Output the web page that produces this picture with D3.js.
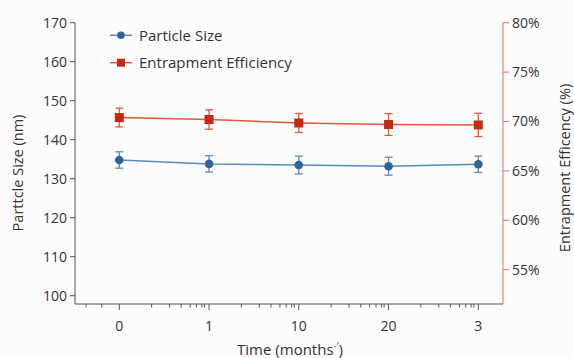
<!DOCTYPE html>
<html>
<head>
<meta charset="utf-8">
<script src="https://cdn.jsdelivr.net/npm/d3@7"></script>
<style>
  body { margin: 0; background: #fcfcfc; }
  svg { font-family: "Open Sans", "Noto Sans", sans-serif; }
</style>
</head>
<body>
<script>
// chart data
const months = ["0", "1", "10", "20", "3"];
const particleSize = [134.8, 133.8, 133.5, 133.2, 133.7];
const particleErr = [2.1, 2.1, 2.3, 2.3, 2.1];
const efficiency = [70.4, 70.2, 69.85, 69.7, 69.65];
const efficiencyErr = [0.95, 0.98, 0.96, 1.1, 1.18];
const leftTicks = [100, 110, 120, 130, 140, 150, 160, 170];
const rightTicks = [55, 60, 65, 70, 75, 80];
// minor tick spots, as fractions of one category step
const minorBefore = [-0.37, -0.195];
const minorBetween = [0.36, 0.56, 0.69, 0.79, 0.86, 0.92, 0.95];

let width = 574,
  height = 358

const blue = "#2f649b", blueLine = "#5a8bbd";
const red = "#c42a12", redLine = "#e2553f", redAxis = "#e8705e";
const grey = "#555", textCol = "#333";

const svg = d3.select("body").append("svg")
  .attr("width", width)
  .attr("height", height);

// plot box
const plotLeft = 75, plotRight = 503, plotTop = 22.7, plotBottom = 304;

const x = d3.scalePoint().domain(months).range([119.3, 478.3]);
const step = x.step();
const yL = d3.scaleLinear().domain([100, 170]).range([295.7, plotTop]);
const yR = d3.scaleLinear().domain([55, 80]).range([269.7, plotTop]);

// left axis
svg.append("line")
  .attr("x1", plotLeft).attr("x2", plotLeft)
  .attr("y1", plotTop).attr("y2", plotBottom)
  .attr("stroke", grey);
const lt = svg.append("g").selectAll("g").data(leftTicks).join("g")
  .attr("transform", d => `translate(0,${yL(d)})`);
lt.append("line").attr("x1", plotLeft - 5).attr("x2", plotLeft).attr("stroke", grey);
lt.append("text")
  .attr("x", plotLeft - 8).attr("dy", "0.35em")
  .attr("text-anchor", "end")
  .attr("font-size", 14).attr("fill", textCol)
  .text(d => d);

// right axis
svg.append("line")
  .attr("x1", plotRight).attr("x2", plotRight)
  .attr("y1", plotTop).attr("y2", plotBottom)
  .attr("stroke", redAxis);
const rt = svg.append("g").selectAll("g").data(rightTicks).join("g")
  .attr("transform", d => `translate(0,${yR(d)})`);
rt.append("line").attr("x1", plotRight).attr("x2", plotRight + 6).attr("stroke", redAxis);
rt.append("text")
  .attr("x", plotRight + 9).attr("dy", "0.35em")
  .attr("font-size", 14).attr("fill", textCol)
  .text(d => d + "%");

// bottom axis
svg.append("line")
  .attr("x1", plotLeft).attr("x2", plotRight)
  .attr("y1", plotBottom).attr("y2", plotBottom)
  .attr("stroke", grey);
let minor = minorBefore.map(f => x(months[0]) + f * step);
months.slice(0, -1).forEach(m => {
  minorBetween.forEach(f => minor.push(x(m) + f * step));
});
svg.append("g").selectAll("line").data(minor).join("line")
  .attr("x1", d => d).attr("x2", d => d)
  .attr("y1", plotBottom).attr("y2", plotBottom + 3.5)
  .attr("stroke", grey);
const bt = svg.append("g").selectAll("g").data(months).join("g")
  .attr("transform", d => `translate(${x(d)},0)`);
bt.append("line").attr("y1", plotBottom).attr("y2", plotBottom + 6).attr("stroke", grey);
bt.append("text")
  .attr("y", 326).attr("dy", "0.35em")
  .attr("text-anchor", "middle")
  .attr("font-size", 14).attr("fill", textCol)
  .text(d => d);

// axis titles
svg.append("text")
  .attr("transform", "translate(23,173) rotate(-90)")
  .attr("text-anchor", "middle")
  .attr("font-size", 14.5).attr("fill", textCol)
  .text("Parttcle Size (nm)");
svg.append("text")
  .attr("transform", "translate(570,168) rotate(-90)")
  .attr("text-anchor", "middle")
  .attr("font-size", 14.5).attr("fill", textCol)
  .text("Entrapment Efficency (%)");
const xt = svg.append("text")
  .attr("x", 290).attr("y", 355)
  .attr("text-anchor", "middle")
  .attr("font-size", 15).attr("fill", textCol);
xt.append("tspan").text("Time (months");
xt.append("tspan").attr("font-size", 10).attr("dy", -5).text("·′");
xt.append("tspan").attr("dy", 5).text(")");

// draws a series with error bars
function drawSeries(vals, errs, y, lineCol, markCol, shape) {
  const g = svg.append("g");
  g.append("path")
    .datum(vals)
    .attr("fill", "none")
    .attr("stroke", lineCol)
    .attr("stroke-width", 1.5)
    .attr("d", d3.line().x((d, i) => x(months[i])).y(d => y(d)));
  const pt = g.selectAll("g").data(vals).join("g")
    .attr("transform", (d, i) => `translate(${x(months[i])},0)`);
  pt.append("line")
    .attr("y1", (d, i) => y(d + errs[i])).attr("y2", (d, i) => y(d - errs[i]))
    .attr("stroke", lineCol).attr("stroke-width", 1.3);
  [1, -1].forEach(s => {
    pt.append("line")
      .attr("x1", -4).attr("x2", 4)
      .attr("y1", (d, i) => y(d + s * errs[i])).attr("y2", (d, i) => y(d + s * errs[i]))
      .attr("stroke", lineCol).attr("stroke-width", 1.3);
  });
  if (shape == "circle") {
    pt.append("circle").attr("cy", d => y(d)).attr("r", 4.3).attr("fill", markCol);
  } else {
    pt.append("rect")
      .attr("x", -4.5).attr("y", d => y(d) - 4.5)
      .attr("width", 9).attr("height", 9)
      .attr("fill", markCol);
  }
}

drawSeries(particleSize, particleErr, yL, blueLine, blue, "circle");
drawSeries(efficiency, efficiencyErr, yR, redLine, red, "square");

// legend
const legendItems = [
  { label: "Particle Size", line: blueLine, mark: blue, shape: "circle", y: 35.3 },
  { label: "Entrapment Efficiency", line: redLine, mark: red, shape: "square", y: 62.7 }
];
const lg = svg.append("g").selectAll("g").data(legendItems).join("g")
  .attr("transform", d => `translate(0,${d.y})`);
lg.append("line")
  .attr("x1", 110).attr("x2", 132)
  .attr("stroke", d => d.line).attr("stroke-width", 1.5);
lg.filter(d => d.shape == "circle").append("circle")
  .attr("cx", 121).attr("r", 3.8).attr("fill", d => d.mark);
lg.filter(d => d.shape == "square").append("rect")
  .attr("x", 117).attr("y", -4).attr("width", 8).attr("height", 8)
  .attr("fill", d => d.mark);
lg.append("text")
  .attr("x", 139).attr("dy", "0.35em")
  .attr("font-size", 15).attr("fill", textCol)
  .text(d => d.label);
</script>
</body>
</html>
